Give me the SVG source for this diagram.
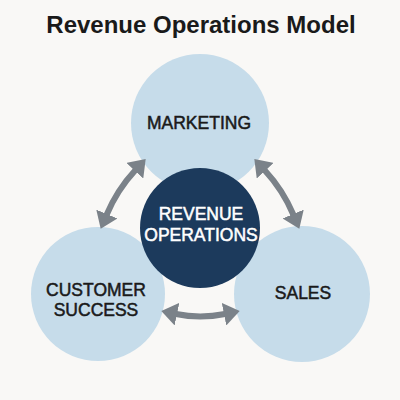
<svg xmlns="http://www.w3.org/2000/svg" width="400" height="400" viewBox="0 0 400 400">
<defs>
<style>
.bg{fill:#f9f8f6}
.light{fill:#c6dcea}
.dark{fill:#1c3a5c}
.lbl{font-family:"Liberation Sans",Arial,sans-serif;font-size:17.5px;text-anchor:middle;fill:#1a1a1a;stroke:#1a1a1a;stroke-width:0.5}
.lblw{font-family:"Liberation Sans",Arial,sans-serif;font-size:17.5px;text-anchor:middle;fill:#ffffff;stroke:#ffffff;stroke-width:0.5}
.title{font-family:"Liberation Sans",Arial,sans-serif;font-size:24px;font-weight:bold;text-anchor:middle;fill:#1a1a1a}
.conn{fill:none;stroke:#7b8289;stroke-width:6;marker-start:url(#ah);marker-end:url(#ah)}
</style>
<marker id="ah" markerUnits="userSpaceOnUse" markerWidth="17" markerHeight="23" refX="1" refY="11.5" orient="auto-start-reverse">
<path d="M0,0 L16,11.5 L0,23 z" fill="#7b8289"/>
</marker>
</defs>
<rect class="bg" x="0" y="0" width="400" height="400"/>
<text class="title" x="201" y="33">Revenue Operations Model</text>
<g id="marketing">
<circle class="light" cx="200" cy="123" r="69"/>
<text class="lbl" x="199" y="129">MARKETING</text>
</g>
<g id="customer-success">
<circle class="light" cx="98" cy="294" r="67"/>
<text class="lbl" x="96" y="296">CUSTOMER</text>
<text class="lbl" x="96" y="316">SUCCESS</text>
</g>
<g id="sales">
<circle class="light" cx="302" cy="294" r="68"/>
<text class="lbl" x="303" y="299">SALES</text>
</g>
<g id="revenue-operations">
<circle class="dark" cx="200" cy="228" r="60"/>
<text class="lblw" x="201" y="220">REVENUE</text>
<text class="lblw" x="201" y="241">OPERATIONS</text>
</g>
<g id="connectors">
<path class="conn" d="M135.5,170 Q117,190 106.5,215"/>
<path class="conn" d="M264.5,170 Q283,190 293.5,215"/>
<path class="conn" d="M176,314 Q200,319 225,314"/>
</g>
</svg>
